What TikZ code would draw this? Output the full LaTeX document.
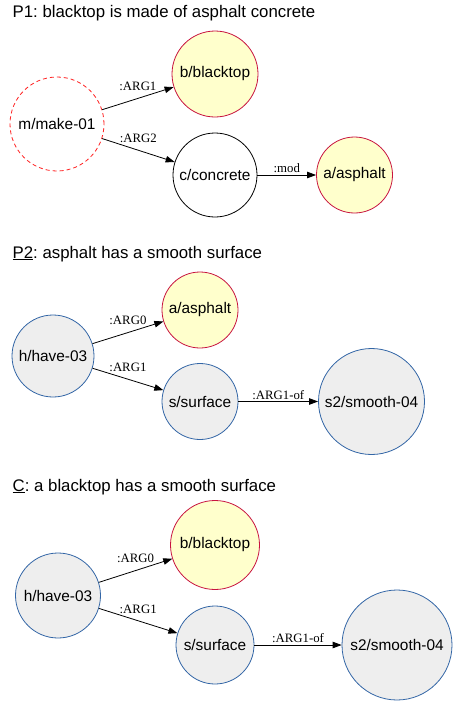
\documentclass[tikz,border=0pt]{standalone}
\usepackage{fontspec}
\setmainfont{Liberation Sans}
\newfontfamily\lblfont{Liberation Serif}
\usetikzlibrary{arrows.meta}
\definecolor{yel}{HTML}{FFFFCC}
\definecolor{crim}{HTML}{C8143F}
\definecolor{bord}{HTML}{3366A6}
\definecolor{gry}{HTML}{EEEEEE}
\definecolor{dred}{HTML}{FF2222}
\frenchspacing
\begin{document}
\begin{tikzpicture}[x=1pt,y=-1pt,
  base/.style={circle, line width=0.8pt, inner sep=0pt, font=\fontsize{15.4}{18}\selectfont},
  concept/.style={base, draw=crim, fill=yel},
  pred/.style={base, draw=bord, fill=gry},
  plain/.style={base, draw=black, fill=white},
  dashedred/.style={base, draw=dred, dash pattern=on 4pt off 3pt, fill=white},
  edge/.style={line width=0.8pt, -{Triangle[length=9pt,width=6.5pt]}},
  lbl/.style={inner sep=1pt, font=\lblfont\fontsize{12.8}{14}\selectfont},
  slab/.style={lbl, above=6pt, pos=0.5},
  hlab/.style={lbl, above=0.7pt, pos=0.5},
  title/.style={anchor=base west, inner sep=0pt, font=\fontsize{16.8}{20}\selectfont}
]
\useasboundingbox (0,0) rectangle (453,702);

% P1
\node[title] (t1) at (12.5,17.3) {P1: blacktop is made of asphalt concrete};
\node[dashedred, minimum size=94pt] (m1) at (57,124) {m/make-01};
\node[concept, minimum size=86pt] (b1) at (215,74) {b/blacktop};
\node[plain, minimum size=84pt] (c1) at (215,175) {c/concrete};
\node[concept, minimum size=76pt] (a1) at (354.5,175) {a/asphalt};
\draw[edge] (m1) -- node[slab] {:ARG1} (b1);
\draw[edge] (m1) -- node[slab] {:ARG2} (c1);
\draw[edge] (c1) -- node[hlab] {:mod} (a1);

% P2
\node[title] (t2) at (12.5,258) {\underline{P2}: asphalt has a smooth surface};
\node[pred, minimum size=82pt] (h2) at (53,356) {h/have-03};
\node[concept, minimum size=76pt] (a2) at (200,310) {a/asphalt};
\node[pred, minimum size=76pt] (s2) at (200,401.5) {s/surface};
\node[pred, minimum size=106pt] (sm2) at (371.5,401.5) {s2/smooth-04};
\draw[edge] (h2) -- node[slab] {:ARG0} (a2);
\draw[edge] (h2) -- node[slab] {:ARG1} (s2);
\draw[edge] (s2) -- node[hlab] {:ARG1-of} (sm2);

% C
\node[title] (t3) at (12.5,491) {\underline{C}: a blacktop has a smooth surface};
\node[pred, minimum size=85pt] (h3) at (58,595.5) {h/have-03};
\node[concept, minimum size=89pt] (b3) at (215,545) {b/blacktop};
\node[pred, minimum size=78pt] (s3) at (215,645) {s/surface};
\node[pred, minimum size=110pt] (sm3) at (397,645) {s2/smooth-04};
\draw[edge] (h3) -- node[slab] {:ARG0} (b3);
\draw[edge] (h3) -- node[slab] {:ARG1} (s3);
\draw[edge] (s3) -- node[hlab] {:ARG1-of} (sm3);
\end{tikzpicture}
\end{document}
